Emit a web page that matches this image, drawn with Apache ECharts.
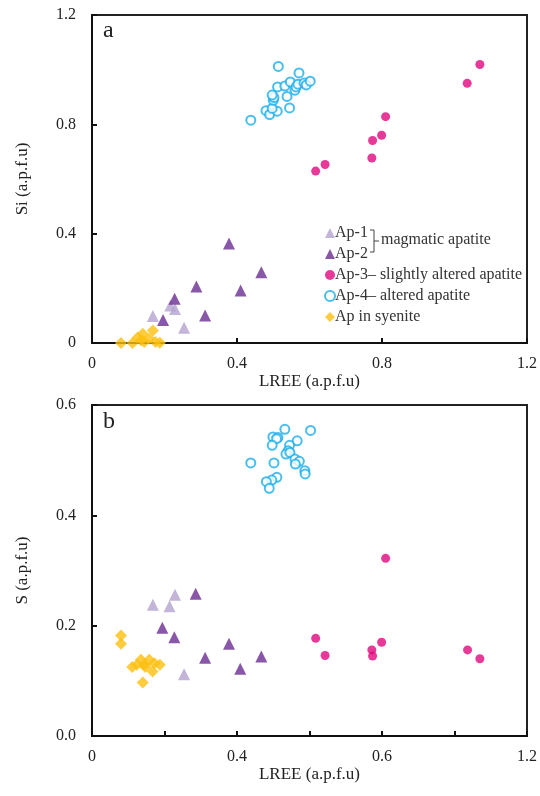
<!DOCTYPE html>
<html>
<head>
<meta charset="utf-8">
<script src="https://cdn.jsdelivr.net/npm/echarts@6/dist/echarts.min.js"></script>
<style>
  html, body { margin: 0; padding: 0; background: #fff; }
  #chart { width: 540px; height: 796px; }
</style>
</head>
<body>
<div id="chart"></div>
<script>
// panel a: LREE vs Si, panel b: LREE vs S
const ap1Si = [[0.216, 0.137], [0.229, 0.124], [0.168, 0.099], [0.254, 0.056]];
const ap2Si = [[0.378, 0.364], [0.467, 0.259], [0.288, 0.207], [0.410, 0.192], [0.228, 0.162], [0.312, 0.101], [0.196, 0.084]];
const ap3Si = [[0.617, 0.629], [0.643, 0.653], [0.772, 0.677], [0.774, 0.741], [0.799, 0.760], [0.810, 0.828], [1.035, 0.950], [1.070, 1.019]];
const ap4Si = [[0.514, 1.012], [0.571, 0.988], [0.438, 0.815], [0.480, 0.850], [0.490, 0.836], [0.511, 0.848], [0.497, 0.858],
  [0.545, 0.860], [0.538, 0.902], [0.500, 0.888], [0.502, 0.898], [0.497, 0.907], [0.512, 0.937], [0.532, 0.940],
  [0.547, 0.955], [0.560, 0.925], [0.563, 0.937], [0.568, 0.947], [0.585, 0.951], [0.591, 0.944], [0.602, 0.958]];
const syeSi = [[0.080, 0.000], [0.112, 0.000], [0.168, 0.046], [0.126, 0.020], [0.140, 0.034], [0.135, 0.010],
  [0.144, 0.004], [0.158, 0.016], [0.175, 0.004], [0.187, 0.001]];

const ap1S = [[0.229, 0.256], [0.168, 0.238], [0.214, 0.235], [0.254, 0.112]];
const ap2S = [[0.286, 0.258], [0.194, 0.196], [0.227, 0.179], [0.378, 0.167], [0.312, 0.142], [0.467, 0.144], [0.409, 0.122]];
const ap3S = [[0.617, 0.177], [0.643, 0.146], [0.772, 0.156], [0.774, 0.145], [0.799, 0.170], [0.810, 0.322], [1.036, 0.156], [1.070, 0.140]];
const ap4S = [[0.532, 0.556], [0.603, 0.554], [0.499, 0.542], [0.513, 0.541], [0.509, 0.539], [0.497, 0.527], [0.566, 0.535],
  [0.545, 0.527], [0.541, 0.517], [0.535, 0.511], [0.546, 0.514], [0.560, 0.502], [0.572, 0.498], [0.561, 0.493],
  [0.438, 0.495], [0.502, 0.495], [0.587, 0.481], [0.588, 0.475], [0.510, 0.469], [0.496, 0.464], [0.481, 0.461], [0.489, 0.449]];
const syeS = [[0.080, 0.182], [0.080, 0.167], [0.111, 0.125], [0.124, 0.129], [0.135, 0.138], [0.144, 0.129], [0.158, 0.138],
  [0.147, 0.125], [0.172, 0.132], [0.187, 0.129], [0.167, 0.117], [0.140, 0.097]];

// tick labels
const topTickLabels = ['0', '0.4', '0.8', '1.2'];
const bottomYTickLabels = ['0.0', '0.2', '0.4', '0.6'];
const bottomXTickLabels = ['0', '', '0.4', '', '0.6', '', '1.2']; // as printed in the figure

const names = ['Ap-1', 'Ap-2', 'Ap-3\u2013 slightly altered apatite', 'Ap-4\u2013 altered apatite', 'Ap in syenite'];

const serif = "'Liberation Serif', 'Times New Roman', serif";
const txt = '#222';

const chart = echarts.init(document.getElementById('chart'));

function axisX(gi, interval, labels, name) {
  return {
    gridIndex: gi, type: 'value', min: 0, max: 1.2, interval: interval,
    name: name, nameLocation: 'middle', nameGap: 28,
    nameTextStyle: { fontFamily: serif, fontSize: 17, color: txt },
    axisLine: { lineStyle: { color: '#111', width: 2 } },
    axisTick: { inside: true, length: 5, lineStyle: { color: '#111', width: 2 } },
    axisLabel: { fontFamily: serif, fontSize: 16, color: txt, margin: 13,
      formatter: v => labels[Math.round(v / interval)] },
    splitLine: { show: false }
  };
}
function axisY(gi, max, interval, labels, name) {
  return {
    gridIndex: gi, type: 'value', min: 0, max: max, interval: interval,
    name: name, nameLocation: 'middle', nameGap: 61,
    nameTextStyle: { fontFamily: serif, fontSize: 17, color: txt },
    axisLine: { lineStyle: { color: '#111', width: 2 } },
    axisTick: { inside: true, length: 5, lineStyle: { color: '#111', width: 2 } },
    axisLabel: { fontFamily: serif, fontSize: 16, color: txt, margin: 16,
      formatter: v => labels[Math.round(v / interval)] },
    splitLine: { show: false }
  };
}

const styles = [
  { symbol: 'triangle', symbolSize: 12, itemStyle: { color: '#B3A3D0' } },
  { symbol: 'triangle', symbolSize: 12, itemStyle: { color: '#6A2D91' } },
  { symbol: 'circle', symbolSize: 9, itemStyle: { color: '#E1077E' } },
  { symbol: 'emptyCircle', symbolSize: 9, itemStyle: { color: '#1BAEEA', borderWidth: 2 } },
  { symbol: 'diamond', symbolSize: 12, itemStyle: { color: '#FDBF0F' } }
];
const topData = [ap1Si, ap2Si, ap3Si, ap4Si, syeSi];
const botData = [ap1S, ap2S, ap3S, ap4S, syeS];

const series = [];
[0, 1].forEach(p => {
  const d = p === 0 ? topData : botData;
  d.forEach((arr, i) => {
    series.push(Object.assign({
      name: names[i], type: 'scatter', xAxisIndex: p, yAxisIndex: p,
      data: arr, z: i === 3 ? 3 : 2
    }, styles[i]));
  });
});

chart.setOption({
  animation: false,
  backgroundColor: '#fff',
  title: [
    { text: 'a', left: 98, top: 14, textStyle: { fontFamily: serif, fontSize: 24, fontWeight: 'normal', color: txt } },
    { text: 'b', left: 98, top: 405, textStyle: { fontFamily: serif, fontSize: 24, fontWeight: 'normal', color: txt } }
  ],
  grid: [
    { left: 92, right: 9, top: 15, height: 328, show: true, borderColor: '#222', borderWidth: 2 },
    { left: 92, right: 9, top: 405, height: 331, show: true, borderColor: '#222', borderWidth: 2 }
  ],
  xAxis: [
    axisX(0, 0.4, topTickLabels, 'LREE (a.p.f.u)'),
    axisX(1, 0.2, bottomXTickLabels, 'LREE (a.p.f.u)')
  ],
  yAxis: [
    axisY(0, 1.2, 0.4, topTickLabels, 'Si (a.p.f.u)'),
    axisY(1, 0.6, 0.2, bottomYTickLabels, 'S (a.p.f.u)')
  ],
  legend: {
    orient: 'vertical', left: 319, top: 220,
    itemWidth: 10, itemHeight: 10, itemGap: 5,
    textStyle: { fontFamily: serif, fontSize: 16, color: '#333', padding: [0, 0, 0, -5] },
    data: names
  },
  graphic: [
    { type: 'polyline', shape: { points: [[370, 230], [374, 230], [374, 252], [370, 252]] },
      style: { stroke: '#444', lineWidth: 1, fill: null } },
    { type: 'line', shape: { x1: 374, y1: 241, x2: 379, y2: 241 }, style: { stroke: '#444', lineWidth: 1 } },
    { type: 'text', left: 381, top: 232,
      style: { text: 'magmatic apatite', font: "16px 'Liberation Serif', serif", fill: '#333' } }
  ],
  series: series
});
</script>
</body>
</html>
